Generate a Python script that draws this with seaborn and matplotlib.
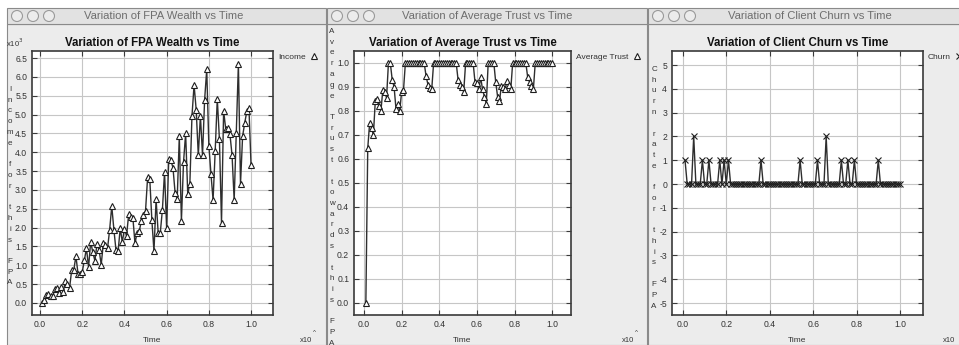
import matplotlib
matplotlib.use("Agg")
import matplotlib.pyplot as plt
import seaborn as sns
from matplotlib.patches import Rectangle, Ellipse
from matplotlib.lines import Line2D

W, H = 959, 345

# sample times (x10^?), one step per tick of the simulation
time = [i / 100 for i in range(1, 101)]

# FPA wealth, in thousands
wealth = [
    0.0, 0.07, 0.2, 0.25, 0.18, 0.18, 0.38, 0.4, 0.27, 0.43,
    0.3, 0.58, 0.5, 0.4, 0.87, 0.87, 1.25, 0.78, 0.78, 0.82,
    1.13, 1.45, 0.95, 1.62, 1.35, 1.12, 1.57, 1.4, 1.02, 1.58,
    1.55, 1.45, 1.95, 2.57, 1.95, 1.4, 1.37, 1.98, 1.62, 1.97,
    1.78, 2.35, 2.28, 2.26, 1.58, 1.87, 1.9, 2.17, 2.33, 2.45,
    3.35, 3.3, 2.2, 1.37, 2.75, 1.85, 1.87, 2.48, 3.48, 1.98,
    3.83, 3.79, 3.59, 2.93, 2.76, 4.42, 2.18, 3.74, 4.5, 2.9,
    3.16, 4.96, 5.79, 5.13, 3.92, 4.97, 3.92, 5.4, 6.2, 4.18,
    3.43, 2.73, 4.03, 5.42, 4.36, 2.13, 5.1, 4.62, 4.65, 4.48,
    3.92, 2.73, 4.52, 6.35, 3.16, 4.43, 4.78, 5.09, 5.18, 3.65,
]

trust = [
    0.0, 0.644, 0.75, 0.73, 0.70, 0.84, 0.85, 0.82, 0.80, 0.887,
    0.88, 0.855, 1.0, 1.0, 0.93, 0.90, 0.81, 0.83, 0.80, 0.88,
    0.887, 1.0, 1.0, 1.0, 1.0, 1.0, 1.0, 1.0, 1.0, 1.0,
    1.0, 1.0, 0.945, 0.91, 0.897, 0.89, 1.0, 1.0, 1.0, 1.0,
    1.0, 1.0, 1.0, 1.0, 1.0, 1.0, 1.0, 1.0, 1.0, 0.93,
    0.91, 0.90, 0.88, 1.0, 1.0, 1.0, 1.0, 1.0, 0.92, 0.915,
    0.89, 0.94, 0.89, 0.86, 0.83, 1.0, 1.0, 1.0, 1.0, 0.92,
    0.86, 0.84, 0.906, 0.898, 0.89, 0.925, 0.91, 0.89, 1.0, 1.0,
    1.0, 1.0, 1.0, 1.0, 1.0, 1.0, 0.94, 0.92, 0.905, 0.89,
    1.0, 1.0, 1.0, 1.0, 1.0, 1.0, 1.0, 1.0, 1.0, 1.0,
]

churn = [
    1, 0, 0, 0, 2, 0, 0, 0, 1, 0,
    0, 1, 0, 0, 0, 0, 1, 0, 1, 0,
    1, 0, 0, 0, 0, 0, 0, 0, 0, 0,
    0, 0, 0, 0, 0, 1, 0, 0, 0, 0,
    0, 0, 0, 0, 0, 0, 0, 0, 0, 0,
    0, 0, 0, 1, 0, 0, 0, 0, 0, 0,
    0, 1, 0, 0, 0, 2, 0, 0, 0, 0,
    0, 0, 1, 0, 0, 1, 0, 0, 1, 0,
    0, 0, 0, 0, 0, 0, 0, 0, 0, 1,
    0, 0, 0, 0, 0, 0, 0, 0, 0, 0,
]

x_ticks = [0.0, 0.2, 0.4, 0.6, 0.8, 1.0]

sns.set_theme(style="whitegrid")
plt.rcParams["font.family"] = ["Liberation Sans", "DejaVu Sans"]

fig = plt.figure(figsize=(W / 100, H / 100), dpi=100, facecolor="white")


def fx(px):
    return px / W


def fy(py):
    return 1 - py / H


# window frames (title bar + grey content area), kept behind the axes
windows = [(7, 326), (327, 647), (648, 962)]
for x0, x1 in windows:
    fig.add_artist(Rectangle((fx(x0), 0), fx(x1 - x0), fy(24), transform=fig.transFigure,
                             facecolor="#ececec", edgecolor="#8a8a8a", lw=0.8, zorder=-5))
    fig.add_artist(Rectangle((fx(x0), fy(24)), fx(x1 - x0), 16 / H, transform=fig.transFigure,
                             facecolor="#e2e2e2", edgecolor="#8a8a8a", lw=0.8, zorder=-5))
    for k in range(3):
        fig.add_artist(Ellipse((fx(x0 + 10 + 16 * k), fy(16)), 11 / W, 11 / H,
                               transform=fig.transFigure, facecolor="#ececec",
                               edgecolor="#9a9a9a", lw=0.8, zorder=-4))

panels = [
    dict(rect=(32, 51, 273, 315), y=wealth, marker="^", xlim=(-0.038, 1.104), ylim=(-0.32, 6.69),
         yticks=[0.0, 0.5, 1.0, 1.5, 2.0, 2.5, 3.0, 3.5, 4.0, 4.5, 5.0, 5.5, 6.0, 6.5], yfmt="{:.1f}",
         title="Variation of FPA Wealth vs Time", win_title="Variation of FPA Wealth vs Time", win_cx=164,
         ylabel="Income for this FPA", ylab_x=10, ylab_top=90, legend="Income", leg_x=278,
         x10_x=306, caret=True, top_note="x10$^{3}$"),
    dict(rect=(354, 51, 571, 315), y=trust, marker="^", xlim=(-0.053, 1.10), ylim=(-0.05, 1.05),
         yticks=[0.0, 0.1, 0.2, 0.3, 0.4, 0.5, 0.6, 0.7, 0.8, 0.9, 1.0], yfmt="{:.1f}",
         title="Variation of Average Trust vs Time", win_title="Variation of Average Trust vs Time", win_cx=487,
         ylabel="Average Trust towards this FPA", ylab_x=332, ylab_top=32, legend="Average Trust", leg_x=576,
         x10_x=628, caret=True, top_note=None),
    dict(rect=(672, 51, 923, 315), y=churn, marker="x", xlim=(-0.05, 1.106), ylim=(-5.5, 5.59),
         yticks=[-5, -4, -3, -2, -1, 0, 1, 2, 3, 4, 5], yfmt="{:d}",
         title="Variation of Client Churn vs Time", win_title="Variation of Client Churn vs Time", win_cx=810,
         ylabel="Churn rate for this FPA", ylab_x=654, ylab_top=70, legend="Churn", leg_x=928,
         x10_x=949, caret=False, top_note=None),
]

for p in panels:
    l, t, r, b = p["rect"]
    ax = fig.add_axes([fx(l), fy(b), (r - l) / W, (b - t) / H])
    ax.set_facecolor("white")

    mk = dict(marker=p["marker"], markersize=5, markeredgecolor="#1e1e1e", markeredgewidth=0.8)
    if p["marker"] == "^":
        mk["markerfacecolor"] = "white"
    else:
        mk["markersize"] = 4.5
    sns.lineplot(x=time, y=p["y"], ax=ax, color="#2e2e2e", lw=1.0, legend=False, **mk)

    ax.set_xlim(*p["xlim"])
    ax.set_ylim(*p["ylim"])
    ax.set_xticks(x_ticks)
    ax.set_xticklabels([f"{v:.1f}" for v in x_ticks])
    ax.set_yticks(p["yticks"])
    ax.set_yticklabels([p["yfmt"].format(v) for v in p["yticks"]])
    ax.grid(True, color="#c6c6c6", lw=0.8)
    for s in ax.spines.values():
        s.set_color("#3a3a3a")
        s.set_linewidth(1.2)
    ax.tick_params(direction="in", length=3.5, width=0.8, color="#3a3a3a", labelsize=6.2,
                   labelcolor="#333333", top=True, right=True, bottom=True, left=True, pad=3.5)

    ax.set_title(p["title"], fontsize=8.3, fontweight="bold", pad=3.5, color="#111111")
    ax.set_xlabel("Time", fontsize=6, labelpad=6, color="#333333")
    ax.set_ylabel("")

    handle = Line2D([], [], ls="none", color="#1e1e1e", **mk)
    ax.legend(handles=[handle], labels=[p["legend"]], loc="upper left",
              bbox_to_anchor=((p["leg_x"] - l) / (r - l), (b - 53) / (b - t)),
              frameon=False, markerfirst=False, fontsize=6, handlelength=0.8,
              handletextpad=0.6, borderaxespad=0, borderpad=0, labelcolor="#333333")

    # vertical letter-stacked y label
    fig.text(fx(p["ylab_x"]), fy(p["ylab_top"] - 4), "\n".join(p["ylabel"]), fontsize=5.8,
             color="#333333", ha="center", va="top", linespacing=1.75)

    fig.text(fx(p["win_cx"]), fy(16), p["win_title"], fontsize=8.1, color="#6e6e6e",
             ha="center", va="center")
    fig.text(fx(p["x10_x"]), fy(340), "x10", fontsize=5.5, color="#333333", ha="center", va="center")
    if p["caret"]:
        fig.text(fx(p["x10_x"] + 8), fy(333), "^", fontsize=4.5, color="#333333", ha="center", va="center")
    if p["top_note"]:
        fig.text(fx(15), fy(43), p["top_note"], fontsize=5.5, color="#333333", ha="center", va="center")

fig.savefig("out.png", dpi=100, facecolor=fig.get_facecolor())
